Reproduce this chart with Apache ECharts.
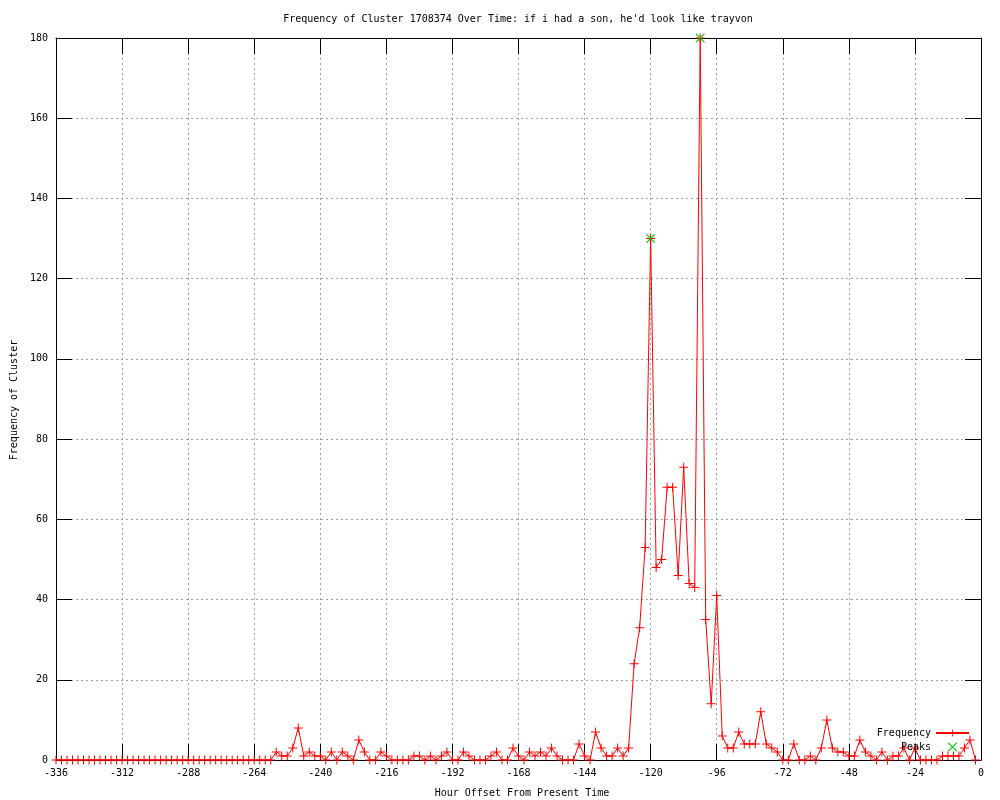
<!DOCTYPE html>
<html>
<head>
<meta charset="utf-8">
<script src="https://cdn.jsdelivr.net/npm/echarts@6/dist/echarts.min.js"></script>
<style>
html,body{margin:0;padding:0;background:#fff;}
#chart{width:1000px;height:800px;}
</style>
</head>
<body>
<div id="chart"></div>
<script>
// Hour offsets (x values) of each sample
var hours = [
-336,-334,-332,-330,-328,-326,-324,-322,-320,-318,
-316,-314,-312,-310,-308,-306,-304,-302,-300,-298,
-296,-294,-292,-290,-288,-286,-284,-282,-280,-278,
-276,-274,-272,-270,-268,-266,-264,-262,-260,-258,
-256,-254,-252,-250,-248,-246,-244,-242,-240,-238,
-236,-234,-232,-230,-228,-226,-224,-222,-220,-218,
-216,-214,-212,-210,-208,-206,-204,-202,-200,-198,
-196,-194,-192,-190,-188,-186,-184,-182,-180,-178,
-176,-174,-172,-170,-168,-166,-164,-162,-160,-158,
-156,-154,-152,-150,-148,-146,-144,-142,-140,-138,
-136,-134,-132,-130,-128,-126,-124,-122,-120,-118,
-116,-114,-112,-110,-108,-106,-104,-102,-100,-98,
-96,-94,-92,-90,-88,-86,-84,-82,-80,-78,
-76,-74,-72,-70,-68,-66,-64,-62,-60,-58,
-56,-54,-52,-50,-48,-46,-44,-42,-40,-38,
-36,-34,-32,-30,-28,-26,-24,-22,-20,-18,
-16,-14,-12,-10,-8,-6,-4,-2
];
// Frequency of cluster at each hour offset
var frequency = [
0,0,0,0,0,0,0,0,0,0,
0,0,0,0,0,0,0,0,0,0,
0,0,0,0,0,0,0,0,0,0,
0,0,0,0,0,0,0,0,0,0,
2,1,1,3,8,1,2,1,1,0,
2,0,2,1,0,5,2,0,0,2,
1,0,0,0,0,1,1,0,1,0,
1,2,0,0,2,1,0,0,0,1,
2,0,0,3,1,0,2,1,2,1,
3,1,0,0,0,4,1,0,7,3,
1,1,3,1,3,24,33,53,130,48,
50,68,68,46,73,44,43,180,35,14,
41,6,3,3,7,4,4,4,12,4,
3,2,0,0,4,0,0,1,0,3,
10,3,2,2,1,1,5,2,1,0,
2,0,1,1,3,0,3,0,0,0,
0,1,1,1,1,3,5,0
];
// Detected peaks
var peakHours = [-120, -102];
var peakValues = [130, 180];

var FONT = 'DejaVu Sans Mono';
var freqData = hours.map(function (h, i) { return [h, frequency[i]]; });
var peakData = peakHours.map(function (h, i) { return [h, peakValues[i]]; });

var plusPath = 'path://M4,0L5,0L5,4L9,4L9,5L5,5L5,9L4,9L4,5L0,5L0,4L4,4Z';
var crossPath = 'path://M0,0L1,0L4.5,3.5L8,0L9,0L9,1L5.5,4.5L9,8L9,9L8,9L4.5,5.5L1,9L0,9L0,8L3.5,4.5L0,1Z';

function tickStyle() { return {show: true, inside: true, length: 16, lineStyle: {color: '#000', width: 1}}; }
function axisLineStyle() { return {show: true, onZero: false, lineStyle: {color: '#000', width: 1}}; }
function gridStyle() { return {show: true, lineStyle: {color: '#a0a0a0', type: [2, 3], width: 1}}; }

var chart = echarts.init(document.getElementById('chart'));
chart.setOption({
  animation: false,
  backgroundColor: '#fff',
  grid: {left: 56, right: 19, top: 38, bottom: 40, containLabel: false},
  xAxis: [{
    type: 'value', min: -336, max: 0, interval: 24, position: 'bottom',
    axisLine: axisLineStyle(),
    axisTick: tickStyle(),
    axisLabel: {margin: 8, color: '#000', fontFamily: FONT, fontSize: 10},
    splitLine: gridStyle()
  }, {
    type: 'value', min: -336, max: 0, interval: 24, position: 'top',
    axisLine: axisLineStyle(),
    axisTick: tickStyle(),
    axisLabel: {show: false},
    splitLine: {show: false}
  }],
  yAxis: [{
    type: 'value', min: 0, max: 180, interval: 20, position: 'left',
    axisLine: axisLineStyle(),
    axisTick: tickStyle(),
    axisLabel: {margin: 8, color: '#000', fontFamily: FONT, fontSize: 10},
    splitLine: gridStyle()
  }, {
    type: 'value', min: 0, max: 180, interval: 20, position: 'right',
    axisLine: axisLineStyle(),
    axisTick: tickStyle(),
    axisLabel: {show: false},
    splitLine: {show: false}
  }],
  legend: {
    orient: 'vertical', right: 30, top: 728, align: 'right',
    itemWidth: 33, itemHeight: 9, itemGap: 4, padding: 0,
    textStyle: {color: '#000', fontFamily: FONT, fontSize: 10},
    data: ['Frequency', 'Peaks']
  },
  graphic: [
    {type: 'text', x: 518, y: 19, style: {text: 'Frequency of Cluster 1708374 Over Time: if i had a son, he\'d look like trayvon', font: '10px "DejaVu Sans Mono"', fill: '#000', textAlign: 'center', textVerticalAlign: 'middle'}},
    {type: 'text', x: 522, y: 793, style: {text: 'Hour Offset From Present Time', font: '10px "DejaVu Sans Mono"', fill: '#000', textAlign: 'center', textVerticalAlign: 'middle'}},
    {type: 'text', x: 14, y: 400, rotation: Math.PI / 2, style: {text: 'Frequency of Cluster', font: '10px "DejaVu Sans Mono"', fill: '#000', textAlign: 'center', textVerticalAlign: 'middle'}}
  ],
  series: [{
    name: 'Frequency', type: 'line', data: freqData,
    xAxisIndex: 0, yAxisIndex: 0,
    showSymbol: true, showAllSymbol: true,
    symbol: plusPath, symbolSize: 9,
    itemStyle: {color: '#ff0000'},
    lineStyle: {color: '#ff0000', width: 1},
    z: 3
  }, {
    name: 'Peaks', type: 'scatter', data: peakData,
    xAxisIndex: 0, yAxisIndex: 0,
    symbol: crossPath, symbolSize: 9,
    itemStyle: {color: '#00c000'},
    z: 4
  }]
});
</script>
</body>
</html>
